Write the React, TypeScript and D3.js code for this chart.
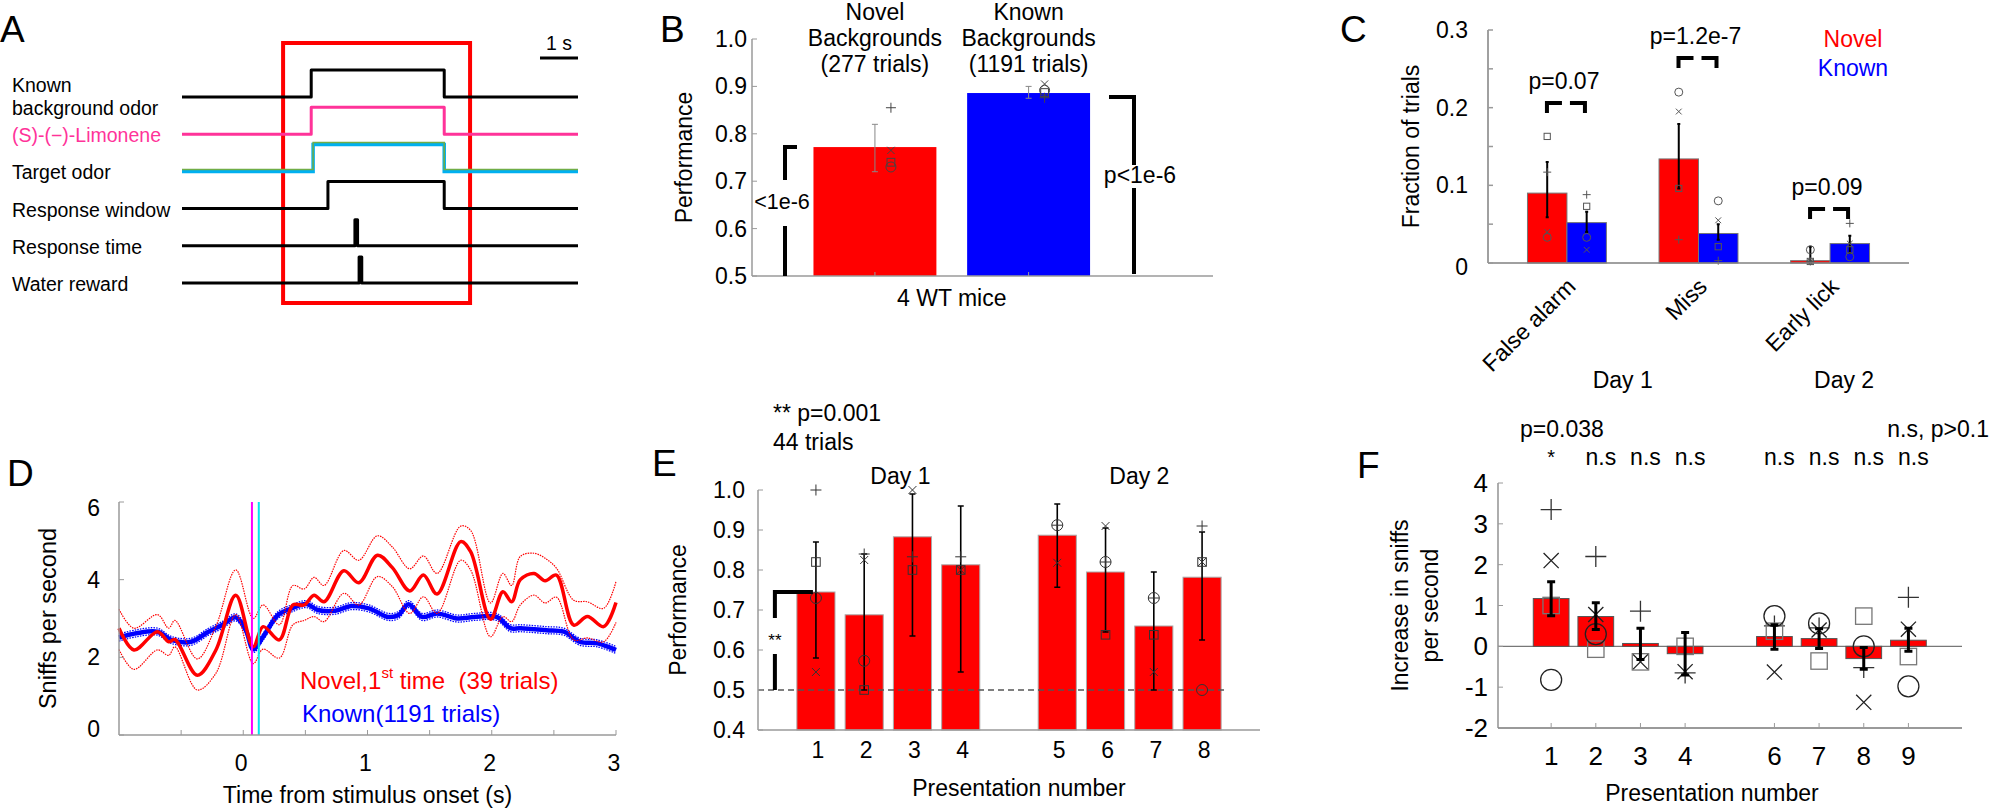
import React, { useEffect } from "react";
import * as d3 from "d3";

const FONT = "'Liberation Sans', Arial, Helvetica, sans-serif";
const AXIS = "#9a9a9a";
const RED = "#ff0000";
const BLUE = "#0000ff";

// ---------- Panel A: trial structure ----------
const traceLabels = ["Known background odor", "(S)-(−)-Limonene", "Target odor", "Response window", "Response time", "Water reward"];
const traceOnset = [3.4, 3.4, 3.45, 3.84, 4.55, 4.66];
const traceOffset = [6.9, 6.9, 6.9, 6.9, 4.62, 4.73];
const traceColors = ["#000", "#ff3399", "#00b0f0", "#000", "#000", "#000"];
const trialEnd = 10.42;
const windowStart = 2.66;
const windowEnd = 7.58;

// ---------- Panel B: overall performance ----------
const bGroups = ["Novel", "Known"];
const bTitles = [["Novel", "Backgrounds", "(277 trials)"], ["Known", "Backgrounds", "(1191 trials)"]];
const bMeans = [0.772, 0.886];
const bErrLo = [0.72, 0.875];
const bErrHi = [0.82, 0.9];
const bMice = {
  plus: [0.855, 0.876],
  x: [0.765, 0.905],
  square: [0.74, 0.887],
  circle: [0.73, 0.892],
};

// ---------- Panel C: error types ----------
const cCategories = ["False alarm", "Miss", "Early lick"];
const cNovel = [0.09, 0.134, 0.003];
const cKnown = [0.052, 0.038, 0.025];
const cNovelLo = [0.059, 0.096, 0.0];
const cNovelHi = [0.13, 0.179, 0.021];
const cKnownLo = [0.04, 0.03, 0.013];
const cKnownHi = [0.066, 0.05, 0.035];
const cNovelMice = { plus: [0.117, 0.03, 0.002], x: [0.04, 0.195, 0.002], square: [0.163, 0.096, 0.002], circle: [0.033, 0.22, 0.017] };
const cKnownMice = { plus: [0.088, 0.003, 0.051], x: [0.017, 0.055, 0.025], square: [0.073, 0.021, 0.017], circle: [0.033, 0.08, 0.008] };
const cPValues = ["p=0.07", "p=1.2e-7", "p=0.09"];
const cBracketLevel = [0.206, 0.264, 0.0695];

// ---------- Panel D: sniff rate ----------
const redTime = [-1.0, -0.88, -0.69, -0.6, -0.55, -0.37, -0.22, -0.06, 0.08, 0.16, 0.29, 0.4, 0.49, 0.57, 0.65, 0.81, 0.93, 1.08, 1.2, 1.34, 1.45, 1.56, 1.75, 1.83, 1.99, 2.09, 2.16, 2.23, 2.34, 2.43, 2.52, 2.66, 2.77, 2.9, 3.0];
const redMean = [2.75, 2.19, 2.66, 2.4, 2.46, 1.54, 2.19, 3.6, 2.27, 2.79, 2.45, 3.35, 3.35, 3.6, 3.43, 4.23, 3.92, 4.63, 4.31, 3.71, 4.12, 3.63, 4.98, 4.72, 2.98, 3.69, 3.43, 4.0, 4.16, 3.97, 4.12, 2.83, 3.05, 2.79, 3.41];
const redUpper = [3.24, 2.75, 3.1, 2.75, 2.95, 1.96, 2.8, 4.25, 3.0, 3.35, 2.84, 3.85, 3.76, 4.06, 3.85, 4.75, 4.5, 5.13, 4.84, 4.28, 4.61, 4.16, 5.38, 5.27, 3.4, 4.16, 3.85, 4.6, 4.68, 4.55, 4.3, 3.47, 3.43, 3.26, 3.95];
const redLower = [2.2, 1.69, 2.19, 2.05, 2.27, 1.16, 1.59, 3.1, 1.84, 2.21, 1.98, 2.84, 2.95, 3.05, 2.92, 3.65, 3.35, 4.08, 3.82, 3.13, 3.56, 3.13, 4.5, 4.25, 2.53, 3.05, 2.92, 3.35, 3.6, 3.4, 3.55, 2.45, 2.5, 2.4, 2.9];
const blueTime = [-1.0, -0.86, -0.69, -0.58, -0.42, -0.28, -0.17, -0.06, 0.02, 0.08, 0.16, 0.28, 0.39, 0.51, 0.6, 0.74, 0.87, 1.01, 1.17, 1.25, 1.33, 1.44, 1.56, 1.72, 1.86, 2.04, 2.15, 2.23, 2.44, 2.58, 2.71, 2.85, 3.0];
const blueMean = [2.51, 2.62, 2.66, 2.45, 2.4, 2.66, 2.83, 3.03, 2.7, 2.21, 2.53, 3.09, 3.26, 3.37, 3.22, 3.2, 3.32, 3.26, 3.04, 3.09, 3.37, 3.04, 3.13, 3.0, 3.04, 3.04, 2.75, 2.75, 2.7, 2.66, 2.4, 2.36, 2.19];
const blueSem = 0.09;
const odorOnsetLines = [0.07, 0.125];

// ---------- Panel E: performance by presentation ----------
const ePos = [1, 2, 3, 4, 6, 7, 8, 9];
const eLabels = ["1", "2", "3", "4", "5", "6", "7", "8"];
const eMeans = [0.745, 0.688, 0.883, 0.813, 0.887, 0.795, 0.66, 0.782];
const eErrLo = [0.58, 0.5, 0.635, 0.545, 0.757, 0.645, 0.5, 0.625];
const eErrHi = [0.87, 0.84, 0.99, 0.96, 0.965, 0.905, 0.795, 0.895];
const eMice = {
  plus: [1.0, 0.84, 0.833, 0.833, 0.912, 0.82, 0.73, 0.91],
  x: [0.545, 0.825, 1.0, 0.8, 0.818, 0.91, 0.545, 0.82],
  square: [0.82, 0.5, 0.8, 0.8, null, 0.638, 0.638, 0.82],
  circle: [0.73, 0.573, null, null, 0.912, 0.82, 0.73, 0.5],
};

// ---------- Panel F: sniff increase ----------
const fPos = [1, 2, 3, 4, 6, 7, 8, 9];
const fMeans = [1.17, 0.73, 0.07, -0.18, 0.24, 0.19, -0.3, 0.15];
const fErrLo = [0.75, 0.41, -0.32, -0.7, -0.07, -0.05, -0.56, -0.12];
const fErrHi = [1.58, 1.07, 0.44, 0.34, 0.53, 0.43, -0.03, 0.44];
const fMice = {
  plus: [3.35, 2.2, 0.86, -0.65, 0.5, 0.45, -0.52, 1.2],
  x: [2.1, 0.78, -0.38, -0.62, -0.63, 0.4, -1.37, 0.42],
  square: [1.0, -0.07, -0.38, 0.0, 0.37, -0.36, 0.74, -0.25],
  circle: [-0.82, 0.3, null, null, 0.74, 0.56, 0.0, -0.98],
};
const fSig = ["*", "n.s", "n.s", "n.s", "n.s", "n.s", "n.s", "n.s"];

type MK = "plus" | "x" | "square" | "circle";
const markerKinds: MK[] = ["plus", "x", "square", "circle"];

function Marker({ kind, cx, cy, r, color, sw = 1 }: { kind: MK; cx: number; cy: number; r: number; color: string; sw?: number }) {
  if (kind === "plus")
    return <path d={`M${cx - r},${cy}H${cx + r}M${cx},${cy - r}V${cy + r}`} stroke={color} strokeWidth={sw} fill="none" />;
  if (kind === "x") {
    const a = r * 0.72;
    return <path d={`M${cx - a},${cy - a}L${cx + a},${cy + a}M${cx - a},${cy + a}L${cx + a},${cy - a}`} stroke={color} strokeWidth={sw} fill="none" />;
  }
  if (kind === "square") {
    const a = r * 0.78;
    return <rect x={cx - a} y={cy - a} width={2 * a} height={2 * a} stroke={color} strokeWidth={sw} fill="none" />;
  }
  return <circle cx={cx} cy={cy} r={r} stroke={color} strokeWidth={sw} fill="none" />;
}

function ErrorBar({ x, y1, y2, cap, sw, color = "#000" }: { x: number; y1: number; y2: number; cap: number; sw: number; color?: string }) {
  return (
    <path
      d={`M${x},${y1}V${y2}M${x - cap},${y1}H${x + cap}M${x - cap},${y2}H${x + cap}`}
      stroke={color}
      strokeWidth={sw}
      fill="none"
    />
  );
}

function Letter({ x, y, t }: { x: number; y: number; t: string }) {
  return (
    <text x={x} y={y} fontSize={37} fontFamily={FONT}>
      {t}
    </text>
  );
}

function PanelA() {
  const x = d3.scaleLinear().domain([0, trialEnd]).range([182, 578]);
  const y = d3.scalePoint<string>().domain(traceLabels).range([97, 283]);
  const step = d3
    .line<[number, number]>()
    .x((d) => x(d[0]))
    .y((d) => d[1])
    .curve(d3.curveStepAfter);

  return (
    <g fontFamily={FONT}>
      <Letter x={0} y={42} t="A" />
      <rect x={x(windowStart)} y={43} width={x(windowEnd) - x(windowStart)} height={260} fill="none" stroke={RED} strokeWidth={4} />
      {traceLabels.map((lab, i) => {
        const base = y(lab)!;
        const spike = traceOffset[i] - traceOnset[i] < 0.2;
        const high = base - (spike ? 26 : 27);
        const pts: [number, number][] = [
          [0, base],
          [traceOnset[i], high],
          [traceOffset[i], base],
          [trialEnd, base],
        ];
        const green = i === 2;
        return (
          <g key={lab}>
            {green ? (
              <>
                <path d={step(pts)!} fill="none" stroke="#00b0f0" strokeWidth={3.5} />
                <path d={step(pts.map((p) => [p[0], p[1] - 2] as [number, number]))!} fill="none" stroke="#70ad47" strokeWidth={1.5} />
              </>
            ) : (
              <path d={step(pts)!} fill="none" stroke={traceColors[i]} strokeWidth={3} strokeLinejoin="round" />
            )}
            {i === 0 ? (
              <text x={12} fontSize={19.5} fill="#000">
                <tspan x={12} y={85} dominantBaseline="central">Known</tspan>
                <tspan x={12} y={108} dominantBaseline="central">background odor</tspan>
              </text>
            ) : (
              <text x={12} y={base + 1} fontSize={19.5} dominantBaseline="central" fill={i === 1 ? "#ff3399" : "#000"}>
                {lab}
              </text>
            )}
          </g>
        );
      })}
      <line x1={x(trialEnd - 1)} x2={x(trialEnd)} y1={58} y2={58} stroke="#000" strokeWidth={3} />
      <text x={(x(trialEnd - 1) + x(trialEnd)) / 2} y={43} fontSize={19.5} textAnchor="middle" dominantBaseline="central">
        1 s
      </text>
    </g>
  );
}

function PanelB() {
  const x = d3.scaleLinear().domain([0.2, 3.2]).range([752, 1213]);
  const y = d3.scaleLinear().domain([0.5, 1.0]).range([276, 39]);
  const bw = x(0.8) - x(0);
  const fmt = d3.format(".1f");
  return (
    <g fontFamily={FONT}>
      <Letter x={660} y={42} t="B" />
      {bGroups.map((g, i) => {
        const cx = x(i + 1);
        return (
          <g key={g}>
            <rect x={cx - bw / 2} y={y(bMeans[i])} width={bw} height={y(0.5) - y(bMeans[i])} fill={i === 0 ? RED : BLUE} />
            <ErrorBar x={cx} y1={y(bErrHi[i])} y2={y(bErrLo[i])} cap={3} sw={1} color="#888" />
            {markerKinds.map((k) => (
              <Marker key={k} kind={k} cx={cx + 16} cy={y(bMice[k][i])} r={5} color="#444" sw={1} />
            ))}
            {bTitles[i].map((t, j) => (
              <text key={j} x={cx} y={12 + j * 26} fontSize={23} textAnchor="middle" dominantBaseline="central">
                {t}
              </text>
            ))}
            <line x1={cx} x2={cx} y1={y(0.5)} y2={y(0.5) - 4} stroke={AXIS} />
          </g>
        );
      })}
      <line x1={x(0.2)} x2={x(3.2)} y1={y(0.5)} y2={y(0.5)} stroke={AXIS} strokeWidth={1.5} />
      <line x1={x(0.2)} x2={x(0.2)} y1={y(0.5)} y2={y(1.0)} stroke={AXIS} strokeWidth={1.5} />
      {y.ticks(5).map((t) => (
        <g key={t}>
          <line x1={x(0.2)} x2={x(0.2) + 5} y1={y(t)} y2={y(t)} stroke={AXIS} />
          <text x={747} y={y(t)} fontSize={23} textAnchor="end" dominantBaseline="central">
            {fmt(t)}
          </text>
        </g>
      ))}
      <text transform={`translate(684,${y(0.75)}) rotate(-90)`} fontSize={23} textAnchor="middle" dominantBaseline="central">
        Performance
      </text>
      <text x={x(1.5)} y={298} fontSize={23} textAnchor="middle" dominantBaseline="central">
        4 WT mice
      </text>
      {/* significance brackets */}
      <path d={`M797,${y(bMeans[0])}H785V180M785,226V${y(0.5)}`} stroke="#000" strokeWidth={4} fill="none" />
      <text x={782} y={202} fontSize={21.5} textAnchor="middle" dominantBaseline="central">
        &lt;1e-6
      </text>
      <path d={`M1109,97H1134V165M1134,188V${y(0.5) - 2}`} stroke="#000" strokeWidth={4} fill="none" />
      <text x={1140} y={175} fontSize={23} textAnchor="middle" dominantBaseline="central">
        p&lt;1e-6
      </text>
    </g>
  );
}

function PanelC() {
  const x = d3.scaleLinear().domain([0.4, 3.6]).range([1488, 1909]);
  const y = d3.scaleLinear().domain([0, 0.3]).range([263, 30]);
  const bw = x(0.3) - x(0);
  const half = bw / 2;
  return (
    <g fontFamily={FONT}>
      <Letter x={1340} y={42} t="C" />
      {cCategories.map((c, i) => {
        const gx = x(i + 1);
        const nx = gx - half;
        const kx = gx + half;
        const by = y(cBracketLevel[i]);
        return (
          <g key={c}>
            <rect x={gx - bw} y={y(cNovel[i])} width={bw} height={y(0) - y(cNovel[i])} fill={RED} stroke="#777" strokeWidth={1} />
            <rect x={gx} y={y(cKnown[i])} width={bw} height={y(0) - y(cKnown[i])} fill={BLUE} stroke="#777" strokeWidth={1} />
            <ErrorBar x={nx} y1={y(cNovelHi[i])} y2={y(cNovelLo[i])} cap={1.5} sw={2} />
            <ErrorBar x={kx} y1={y(cKnownHi[i])} y2={y(cKnownLo[i])} cap={1.5} sw={2} />
            {markerKinds.map((k) => (
              <g key={k}>
                <Marker kind={k} cx={nx} cy={y(cNovelMice[k][i])} r={4} color="#555" sw={1} />
                <Marker kind={k} cx={kx} cy={y(cKnownMice[k][i])} r={4} color="#555" sw={1} />
              </g>
            ))}
            <path
              d={`M${gx - 20},${by + 10}V${by}H${gx - 5}M${gx + 3},${by}H${gx + 18}V${by + 10}`}
              stroke="#000"
              strokeWidth={4}
              fill="none"
            />
            <text x={gx - 3} y={by - 22} fontSize={23} textAnchor="middle" dominantBaseline="central">
              {cPValues[i]}
            </text>
            <text transform={`translate(${gx + 10},${y(0) + 25}) rotate(-45)`} fontSize={23} textAnchor="end">
              {c}
            </text>
          </g>
        );
      })}
      <line x1={x(0.4)} x2={x(3.6)} y1={y(0)} y2={y(0)} stroke="#808080" strokeWidth={1.5} />
      <line x1={x(0.4)} x2={x(0.4)} y1={y(0)} y2={y(0.3)} stroke="#808080" strokeWidth={1.5} />
      {y.ticks(6).map((t) => (
        <g key={t}>
          <line x1={x(0.4)} x2={x(0.4) + 5} y1={y(t)} y2={y(t)} stroke={AXIS} strokeWidth={1.5} />
          {Math.abs(Math.round(t * 10) - t * 10) < 1e-6 && (
            <text x={1468} y={y(t) + (t === 0 ? 4 : 0)} fontSize={23} textAnchor="end" dominantBaseline="central">
              {t === 0 ? "0" : d3.format(".1f")(t)}
            </text>
          )}
        </g>
      ))}
      <text transform={`translate(1411,${y(0.15)}) rotate(-90)`} fontSize={23} textAnchor="middle" dominantBaseline="central">
        Fraction of trials
      </text>
      <text x={1853} y={39} fontSize={23} fill={RED} textAnchor="middle" dominantBaseline="central">Novel</text>
      <text x={1853} y={68} fontSize={23} fill={BLUE} textAnchor="middle" dominantBaseline="central">Known</text>
      <text x={(x(1) + x(2)) / 2 - 10} y={380} fontSize={23} textAnchor="middle" dominantBaseline="central">Day 1</text>
      <text x={x(3) + 14} y={380} fontSize={23} textAnchor="middle" dominantBaseline="central">Day 2</text>
    </g>
  );
}

function PanelD() {
  const x = d3.scaleLinear().domain([-1, 3]).range([119, 616]);
  const y = d3.scaleLinear().domain([0, 6]).range([735, 502]);
  const mk = (ts: number[]) =>
    d3
      .line<number>()
      .x((_, i) => x(ts[i]))
      .y((v) => y(v))
      .curve(d3.curveCatmullRom.alpha(0.5));
  const redLine = mk(redTime);
  const blueLine = mk(blueTime);
  return (
    <g fontFamily={FONT}>
      <Letter x={7} y={486} t="D" />
      <path d={blueLine(blueMean.map((v) => v + blueSem))!} fill="none" stroke={BLUE} strokeWidth={1.3} strokeDasharray="1.5 1.2" />
      <path d={blueLine(blueMean.map((v) => v - blueSem))!} fill="none" stroke={BLUE} strokeWidth={1.3} strokeDasharray="1.5 1.2" />
      <path d={blueLine(blueMean)!} fill="none" stroke={BLUE} strokeWidth={4.5} />
      <path d={redLine(redUpper)!} fill="none" stroke={RED} strokeWidth={1.2} strokeDasharray="1.5 1" />
      <path d={redLine(redLower)!} fill="none" stroke={RED} strokeWidth={1.2} strokeDasharray="1.5 1" />
      <path d={redLine(redMean)!} fill="none" stroke={RED} strokeWidth={3.5} />
      {odorOnsetLines.map((t, i) => (
        <line key={t} x1={x(t)} x2={x(t)} y1={y(6)} y2={y(0)} stroke={i === 0 ? "#ff00ff" : "#00e5ee"} strokeWidth={2} />
      ))}
      <line x1={x(-1)} x2={x(3)} y1={y(0)} y2={y(0)} stroke={AXIS} strokeWidth={1.5} />
      <line x1={x(-1)} x2={x(-1)} y1={y(0)} y2={y(6)} stroke={AXIS} strokeWidth={1.5} />
      {d3.range(-0.5, 3.01, 0.5).map((t) => (
        <line key={t} x1={x(t)} x2={x(t)} y1={y(0)} y2={y(0) - 5} stroke={AXIS} />
      ))}
      {[0, 1, 2, 3].map((t) => (
        <text key={t} x={x(t) - 2} y={763} fontSize={23} textAnchor="middle" dominantBaseline="central">
          {t}
        </text>
      ))}
      {y.ticks(3).map((t) => (
        <g key={t}>
          <line x1={x(-1)} x2={x(-1) + 5} y1={y(t)} y2={y(t)} stroke={AXIS} />
          <text x={100} y={y(t) + (t === 6 ? 6 : t === 0 ? -6 : 0)} fontSize={23} textAnchor="end" dominantBaseline="central">
            {t}
          </text>
        </g>
      ))}
      <text transform={`translate(48,${y(3)}) rotate(-90)`} fontSize={23.5} textAnchor="middle" dominantBaseline="central">
        Sniffs per second
      </text>
      <text x={(x(-1) + x(3)) / 2} y={795} fontSize={23} textAnchor="middle" dominantBaseline="central">
        Time from stimulus onset (s)
      </text>
      <text x={300} y={680} fontSize={24} fill={RED} dominantBaseline="central" xmlSpace="preserve">
        Novel,1<tspan fontSize={15} dy={-8}>st</tspan>
        <tspan dy={8}>{" time\u00a0\u00a0(39 trials)"}</tspan>
      </text>
      <text x={302} y={713} fontSize={24} fill={BLUE} dominantBaseline="central">
        Known(1191 trials)
      </text>
    </g>
  );
}

function PanelE() {
  const x = d3.scaleLinear().domain([-0.2, 10.2]).range([758, 1260]);
  const y = d3.scaleLinear().domain([0.4, 1.0]).range([730, 490]);
  const bw = x(0.79) - x(0);
  const fmt = d3.format(".1f");
  return (
    <g fontFamily={FONT}>
      <Letter x={652} y={476} t="E" />
      <text x={773} y={413} fontSize={23} dominantBaseline="central">** p=0.001</text>
      <text x={773} y={442} fontSize={23} dominantBaseline="central">44 trials</text>
      <text x={x(2.75)} y={476} fontSize={23} textAnchor="middle" dominantBaseline="central">Day 1</text>
      <text x={x(7.7)} y={476} fontSize={23} textAnchor="middle" dominantBaseline="central">Day 2</text>
      {ePos.map((p, i) => (
        <rect key={p} x={x(p) - bw / 2} y={y(eMeans[i])} width={bw} height={y(0.4) - y(eMeans[i])} fill={RED} stroke="#aaa" strokeWidth={1} />
      ))}
      <line x1={x(-0.2)} x2={x(9.5)} y1={y(0.5)} y2={y(0.5)} stroke="#555" strokeWidth={1.5} strokeDasharray="6 4" />
      {ePos.map((p, i) => (
        <g key={p}>
          <ErrorBar x={x(p)} y1={y(eErrHi[i])} y2={y(eErrLo[i])} cap={3} sw={1.6} />
          {markerKinds.map((k) => {
            const v = eMice[k][i];
            return v == null ? null : <Marker key={k} kind={k} cx={x(p)} cy={y(v)} r={5.5} color="#333" sw={1} />;
          })}
          <text x={x(p) + 2} y={750} fontSize={23} textAnchor="middle" dominantBaseline="central">
            {eLabels[i]}
          </text>
        </g>
      ))}
      <line x1={x(-0.2)} x2={x(10.2)} y1={y(0.4)} y2={y(0.4)} stroke={AXIS} strokeWidth={1.5} />
      <line x1={x(-0.2)} x2={x(-0.2)} y1={y(0.4)} y2={y(1.0)} stroke={AXIS} strokeWidth={1.5} />
      {y.ticks(6).map((t) => (
        <g key={t}>
          <line x1={x(-0.2)} x2={x(-0.2) + 5} y1={y(t)} y2={y(t)} stroke={AXIS} />
          <text x={745} y={y(t)} fontSize={23} textAnchor="end" dominantBaseline="central">
            {fmt(t)}
          </text>
        </g>
      ))}
      <text transform={`translate(678,${y(0.7)}) rotate(-90)`} fontSize={23} textAnchor="middle" dominantBaseline="central">
        Performance
      </text>
      <text x={(x(-0.2) + x(10.2)) / 2 + 10} y={788} fontSize={23} textAnchor="middle" dominantBaseline="central">
        Presentation number
      </text>
      <path d={`M${x(1) - 3},${y(eMeans[0])}H${x(0.15)}V${y(0.68)}M${x(0.15)},${y(0.59)}V${y(0.5)}`} stroke="#000" strokeWidth={4} fill="none" />
      <text x={x(0.15)} y={640} fontSize={17} textAnchor="middle" dominantBaseline="central">**</text>
    </g>
  );
}

function PanelF() {
  const x = d3.scaleLinear().domain([-0.19, 10.2]).range([1498, 1962]);
  const y = d3.scaleLinear().domain([-2, 4]).range([728, 483]);
  const bw = x(0.8) - x(0);
  const mColor: Record<MK, string> = { plus: "#333", x: "#222", square: "#777", circle: "#222" };
  return (
    <g fontFamily={FONT}>
      <Letter x={1357} y={478} t="F" />
      <line x1={x(-0.19)} x2={x(10.2)} y1={y(0)} y2={y(0)} stroke="#777" strokeWidth={1.2} />
      {fPos.map((p, i) => {
        const v = fMeans[i];
        return (
          <rect key={p} x={x(p) - bw / 2} y={Math.min(y(v), y(0))} width={bw} height={Math.abs(y(v) - y(0))} fill={RED} stroke="#555" strokeWidth={1} />
        );
      })}
      {fPos.map((p, i) => (
        <g key={p}>
          {markerKinds.map((k) => {
            const v = fMice[k][i];
            return v == null ? null : <Marker key={k} kind={k} cx={x(p)} cy={y(v)} r={10.5} color={mColor[k]} sw={1.3} />;
          })}
          <ErrorBar x={x(p)} y1={y(fErrHi[i])} y2={y(fErrLo[i])} cap={4} sw={3} />
          <line x1={x(p)} x2={x(p)} y1={y(-2)} y2={y(-2) - 5} stroke={AXIS} />
          <text x={x(p)} y={756} fontSize={26} textAnchor="middle" dominantBaseline="central">
            {p}
          </text>
          <text x={x(p) + (i === 0 ? 0 : 5)} y={457} fontSize={i === 0 ? 20 : 23} textAnchor="middle" dominantBaseline="central">
            {fSig[i]}
          </text>
        </g>
      ))}
      <text x={1520} y={429} fontSize={23} dominantBaseline="central">p=0.038</text>
      <text x={1989} y={429} fontSize={23} textAnchor="end" dominantBaseline="central">n.s, p&gt;0.1</text>
      <line x1={x(-0.19)} x2={x(10.2)} y1={y(-2)} y2={y(-2)} stroke={AXIS} strokeWidth={2} />
      <line x1={x(-0.19)} x2={x(-0.19)} y1={y(-2)} y2={y(4)} stroke="#777" strokeWidth={1.2} />
      {y.ticks(6).map((t) => (
        <g key={t}>
          <line x1={x(-0.19)} x2={x(-0.19) + 5} y1={y(t)} y2={y(t)} stroke={AXIS} />
          <text x={1488} y={y(t)} fontSize={26} textAnchor="end" dominantBaseline="central">
            {t}
          </text>
        </g>
      ))}
      <text transform={`translate(1400,${y(1)}) rotate(-90)`} fontSize={23} textAnchor="middle" dominantBaseline="central">
        Increase in sniffs
      </text>
      <text transform={`translate(1430,${y(1)}) rotate(-90)`} fontSize={23} textAnchor="middle" dominantBaseline="central">
        per second
      </text>
      <text x={1712} y={793} fontSize={23} textAnchor="middle" dominantBaseline="central">
        Presentation number
      </text>
    </g>
  );
}

export default function App() {
  useEffect(() => {
    document.body.style.margin = "0";
  }, []);
  return (
    <svg width={1990} height={809} viewBox="0 0 1990 809" style={{ display: "block", background: "#fff" }}>
      <rect width={1990} height={809} fill="#fff" />
      <PanelA />
      <PanelB />
      <PanelC />
      <PanelD />
      <PanelE />
      <PanelF />
    </svg>
  );
}
